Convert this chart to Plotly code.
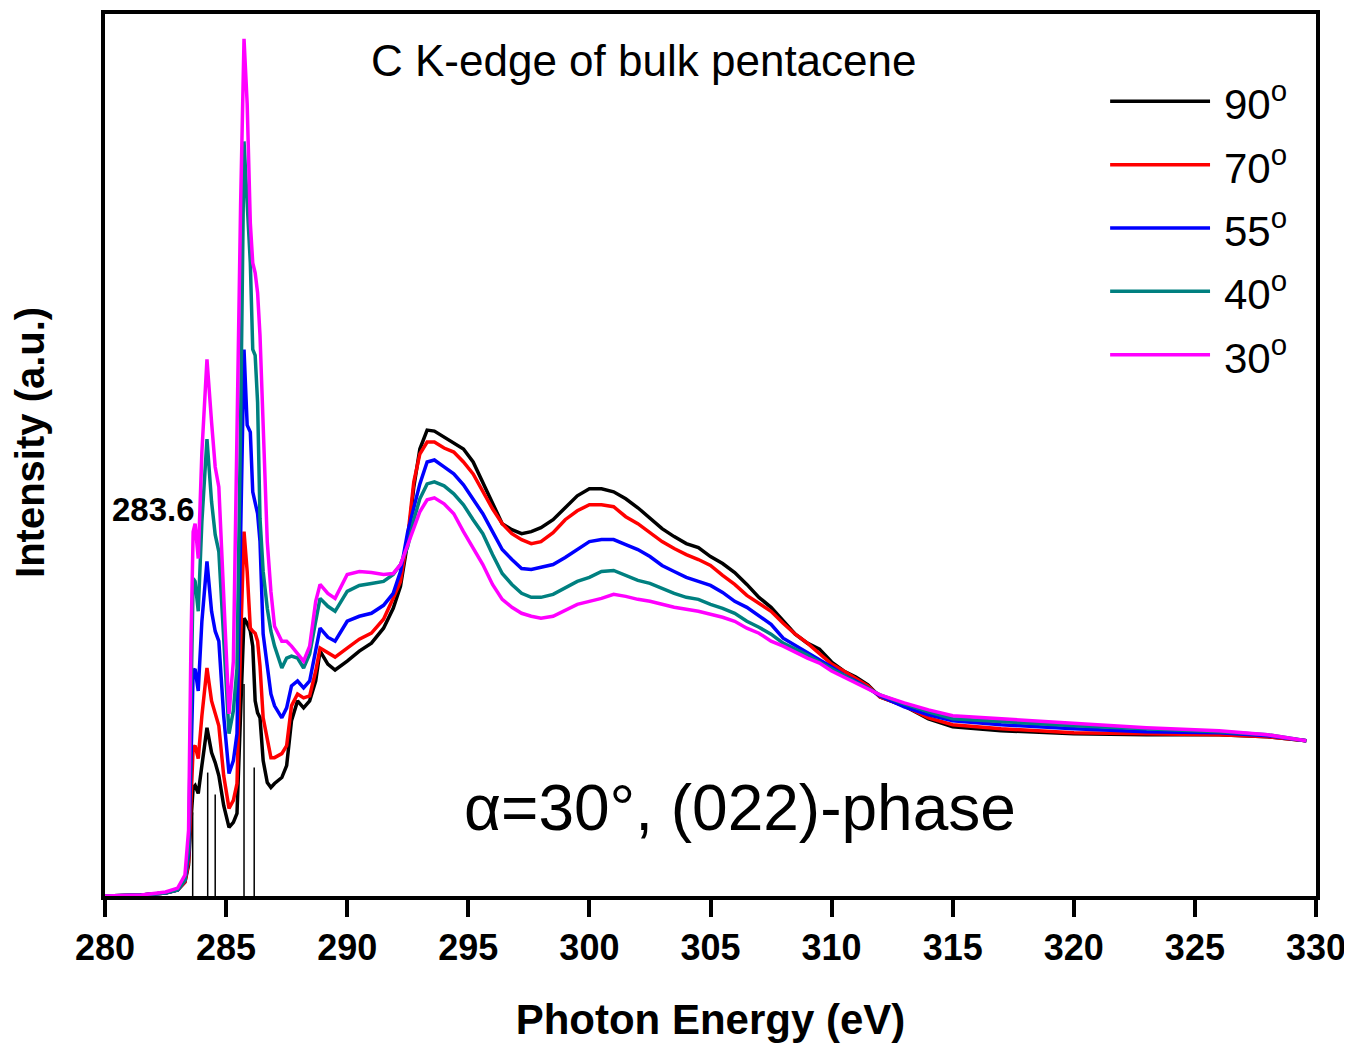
import plotly.graph_objects as go

# Photon energy grid (eV)
energy = [280.0, 281.5, 282.5, 283.0, 283.3, 283.45, 283.55, 283.64, 283.72, 283.85,
          284.0, 284.21, 284.4, 284.55, 284.7, 284.9, 285.12, 285.3, 285.45, 285.6,
          285.74, 285.87, 286.0, 286.1, 286.2, 286.3, 286.4, 286.53, 286.7, 286.85,
          287.0, 287.3, 287.5, 287.7, 287.95, 288.2, 288.45, 288.7, 288.88, 289.2,
          289.5, 290.0, 290.5, 291.0, 291.5, 291.9, 292.2, 292.5, 292.75, 293.0,
          293.3, 293.6, 294.0, 294.4, 294.8, 295.2, 295.6, 296.0, 296.4, 296.8,
          297.2, 297.6, 298.0, 298.5, 299.0, 299.5, 300.0, 300.5, 301.0, 301.5,
          302.0, 302.5, 303.0, 303.5, 304.0, 304.5, 305.0, 305.5, 306.0, 306.5,
          307.0, 307.5, 308.0, 308.5, 309.0, 309.5, 310.0, 310.5, 311.0, 311.5,
          312.0, 313.0, 314.0, 315.0, 317.0, 320.0, 323.0, 326.0, 328.0, 329.6]

i90 = [0.00, 0.01, 0.03, 0.06, 0.14, 0.31, 0.76, 1.09, 1.11, 1.03,
       1.31, 1.69, 1.44, 1.34, 1.21, 0.91, 0.69, 0.74, 0.83, 1.96,
       2.79, 2.74, 2.66, 2.51, 1.96, 1.84, 1.79, 1.36, 1.14, 1.09,
       1.13, 1.19, 1.31, 1.76, 1.96, 1.89, 1.96, 2.16, 2.46, 2.33,
       2.27, 2.36, 2.46, 2.54, 2.69, 2.89, 3.11, 3.56, 4.11, 4.49,
       4.68, 4.67, 4.61, 4.56, 4.49, 4.36, 4.16, 3.96, 3.74, 3.68,
       3.64, 3.66, 3.70, 3.78, 3.90, 4.02, 4.09, 4.09, 4.06, 3.99,
       3.90, 3.79, 3.69, 3.61, 3.54, 3.50, 3.41, 3.34, 3.25, 3.13,
       3.00, 2.90, 2.76, 2.63, 2.54, 2.48, 2.35, 2.26, 2.20, 2.12,
       2.00, 1.91, 1.78, 1.70, 1.66, 1.63, 1.62, 1.62, 1.60, 1.56]

i70 = [0.00, 0.01, 0.03, 0.06, 0.14, 0.34, 0.96, 1.49, 1.51, 1.38,
       1.81, 2.29, 1.96, 1.83, 1.71, 1.21, 0.88, 0.96, 1.13, 2.56,
       3.66, 3.26, 2.69, 2.66, 2.64, 2.56, 2.31, 1.79, 1.56, 1.39,
       1.39, 1.43, 1.51, 1.91, 2.03, 1.99, 2.01, 2.26, 2.49, 2.44,
       2.40, 2.49, 2.58, 2.64, 2.78, 2.99, 3.16, 3.61, 4.16, 4.44,
       4.56, 4.56, 4.50, 4.46, 4.36, 4.24, 4.06, 3.89, 3.74, 3.64,
       3.58, 3.54, 3.56, 3.65, 3.78, 3.87, 3.93, 3.93, 3.91, 3.81,
       3.74, 3.65, 3.56, 3.49, 3.43, 3.38, 3.32, 3.22, 3.13, 3.02,
       2.94, 2.86, 2.74, 2.63, 2.54, 2.44, 2.33, 2.26, 2.18, 2.11,
       2.00, 1.91, 1.79, 1.72, 1.68, 1.64, 1.63, 1.62, 1.60, 1.56]

i55 = [0.00, 0.01, 0.03, 0.06, 0.16, 0.41, 1.36, 2.26, 2.28, 2.06,
       2.76, 3.36, 2.86, 2.66, 2.56, 1.81, 1.23, 1.36, 1.63, 3.46,
       5.49, 4.73, 4.66, 4.06, 3.96, 3.84, 3.56, 2.63, 2.31, 2.03,
       1.91, 1.79, 1.89, 2.11, 2.16, 2.09, 2.16, 2.46, 2.69, 2.60,
       2.56, 2.76, 2.81, 2.84, 2.92, 3.04, 3.26, 3.66, 3.91, 4.14,
       4.36, 4.38, 4.31, 4.24, 4.13, 3.99, 3.84, 3.66, 3.48, 3.38,
       3.29, 3.28, 3.30, 3.33, 3.40, 3.48, 3.56, 3.58, 3.58, 3.53,
       3.48, 3.41, 3.32, 3.26, 3.20, 3.16, 3.12, 3.05, 2.96, 2.90,
       2.82, 2.73, 2.59, 2.52, 2.45, 2.38, 2.30, 2.22, 2.16, 2.09,
       2.01, 1.90, 1.82, 1.76, 1.72, 1.68, 1.65, 1.64, 1.61, 1.56]

i40 = [0.00, 0.01, 0.03, 0.06, 0.16, 0.46, 1.96, 3.19, 3.16, 2.86,
       3.76, 4.59, 3.96, 3.63, 3.46, 2.56, 1.63, 1.86, 2.29, 4.76,
       7.58, 6.96, 6.36, 5.49, 5.43, 4.96, 3.79, 3.26, 2.89, 2.66,
       2.51, 2.29, 2.39, 2.41, 2.39, 2.29, 2.43, 2.76, 2.99, 2.91,
       2.86, 3.06, 3.12, 3.14, 3.16, 3.23, 3.33, 3.51, 3.78, 3.99,
       4.14, 4.16, 4.12, 4.04, 3.93, 3.78, 3.64, 3.43, 3.24, 3.13,
       3.04, 3.00, 3.00, 3.03, 3.10, 3.16, 3.20, 3.26, 3.27, 3.22,
       3.17, 3.14, 3.09, 3.04, 3.00, 2.98, 2.93, 2.89, 2.84, 2.76,
       2.70, 2.63, 2.54, 2.48, 2.42, 2.35, 2.28, 2.21, 2.15, 2.09,
       2.02, 1.93, 1.85, 1.78, 1.75, 1.71, 1.68, 1.65, 1.62, 1.56]

i30 = [0.00, 0.01, 0.04, 0.08, 0.21, 0.66, 2.56, 3.66, 3.74, 3.39,
       4.46, 5.39, 4.76, 4.31, 4.11, 3.06, 1.83, 2.36, 4.76, 6.96,
       8.61, 7.96, 6.76, 6.36, 6.26, 6.06, 5.63, 4.69, 3.56, 3.06,
       2.71, 2.56, 2.56, 2.51, 2.44, 2.36, 2.51, 2.96, 3.13, 3.04,
       2.99, 3.23, 3.26, 3.25, 3.23, 3.24, 3.33, 3.53, 3.71, 3.86,
       3.98, 4.00, 3.94, 3.84, 3.66, 3.50, 3.33, 3.13, 2.98, 2.90,
       2.84, 2.81, 2.79, 2.81, 2.87, 2.93, 2.96, 2.99, 3.03, 3.01,
       2.98, 2.96, 2.93, 2.90, 2.88, 2.86, 2.83, 2.80, 2.76, 2.69,
       2.64, 2.56, 2.51, 2.45, 2.39, 2.34, 2.26, 2.20, 2.14, 2.08,
       2.02, 1.94, 1.87, 1.81, 1.78, 1.73, 1.69, 1.66, 1.62, 1.56]

series_names = ["90°", "70°", "55°", "40°", "30°"]
series_values = [i90, i70, i55, i40, i30]
series_colors = ["#000000", "#FF0000", "#0000FF", "#008080", "#FF00FF"]

# Transition stick positions (eV) and heights (a.u.)
stick_energy = [283.62, 284.24, 284.55, 285.74, 286.16]
stick_height = [0.84, 1.24, 1.02, 2.13, 1.29]

x_ticks = [280, 285, 290, 295, 300, 305, 310, 315, 320, 325, 330]

FONT = "Liberation Sans, Arial, sans-serif"

fig = go.Figure()

sx, sy = [], []
for e, h in zip(stick_energy, stick_height):
    sx += [e, e, None]
    sy += [0, h, None]
fig.add_trace(go.Scatter(x=sx, y=sy, mode="lines",
                         line=dict(color="black", width=1.5),
                         showlegend=False, hoverinfo="skip"))

for name, vals, col in zip(series_names, series_values, series_colors):
    fig.add_trace(go.Scatter(x=energy, y=vals, mode="lines", name=name,
                             line=dict(color=col, width=3.5),
                             showlegend=False))

# Manual legend (long line samples as in the original)
leg_top = 0.9010
leg_step = 0.0718
annotations = []
shapes = []
for k, (name, col) in enumerate(zip(series_names, series_colors)):
    yy = leg_top - k * leg_step
    shapes.append(dict(type="line", xref="paper", yref="paper",
                       x0=0.830, x1=0.9125, y0=yy, y1=yy,
                       line=dict(color=col, width=3.5)))
    annotations.append(dict(xref="paper", yref="paper", x=0.922, y=yy,
                            xanchor="left", yanchor="middle", showarrow=False,
                            text=name[:-1] + "<sup>o</sup>",
                            font=dict(family=FONT, size=42, color="black")))

annotations.append(dict(xref="paper", yref="paper", x=0.445, y=0.9470,
                        xanchor="center", yanchor="middle", showarrow=False,
                        text="C K-edge of bulk pentacene",
                        font=dict(family=FONT, size=44, color="black")))
annotations.append(dict(xref="paper", yref="paper", x=0.5244, y=0.0993,
                        xanchor="center", yanchor="middle", showarrow=False,
                        text="α=30°, (022)-phase",
                        font=dict(family=FONT, size=64, color="black")))
annotations.append(dict(xref="paper", yref="paper", x=0.076, y=0.438,
                        xanchor="right", yanchor="middle", showarrow=False,
                        text="283.6",
                        font=dict(family=FONT, size=33, color="black", weight="bold")))
# y-axis title placed as in the reference (slightly above plot centre)
annotations.append(dict(xref="paper", yref="paper", x=-0.062, y=0.5147,
                        xanchor="center", yanchor="middle", showarrow=False,
                        textangle=-90, text="Intensity (a.u.)",
                        font=dict(family=FONT, size=40, color="black", weight="bold")))

# The page body adds an 8 px offset; size the figure so the plot area lands
# where the reference has it.
fig.update_layout(
    width=1344, height=1035,
    margin=dict(l=97, r=36, t=2, b=147),
    paper_bgcolor="white", plot_bgcolor="white",
    showlegend=False,
    annotations=annotations,
    shapes=shapes,
    font=dict(family=FONT, color="black"),
)

fig.update_xaxes(
    range=[280, 330], tickmode="array", tickvals=x_ticks,
    ticktext=[str(t) for t in x_ticks],
    ticks="outside", ticklen=17, tickwidth=3.5, tickcolor="black",
    showline=True, linewidth=4, linecolor="black", mirror=True,
    showgrid=False, zeroline=False,
    tickfont=dict(family=FONT, size=36, color="black", weight="bold"),
    title=dict(text="Photon Energy (eV)", standoff=40,
               font=dict(family=FONT, size=42, color="black", weight="bold")),
)
fig.update_yaxes(
    range=[0, 8.86], showticklabels=False, ticks="",
    showline=True, linewidth=4, linecolor="black", mirror=True,
    showgrid=False, zeroline=False,
)

fig.write_html("out.html")
